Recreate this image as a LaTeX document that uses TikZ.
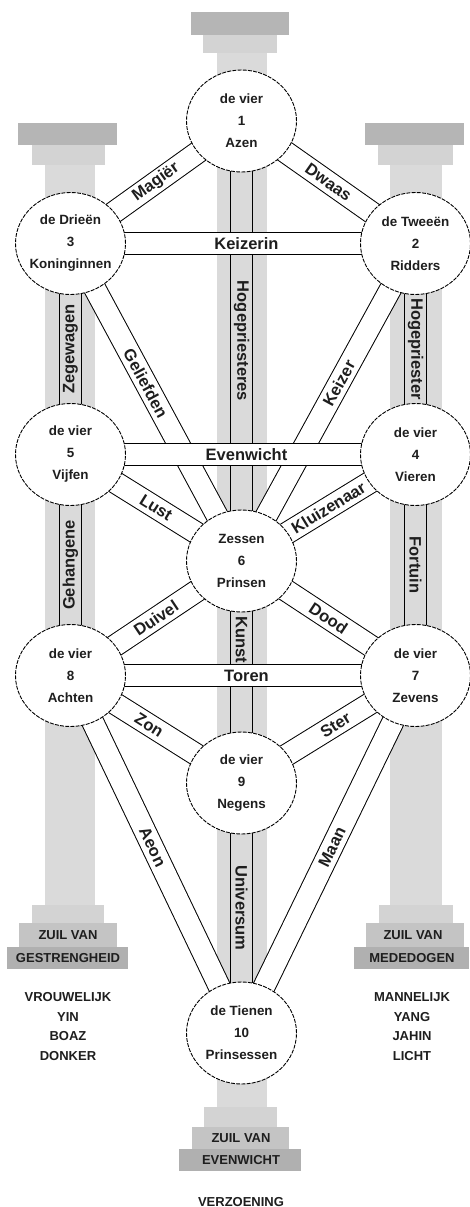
\documentclass[tikz,border=0pt]{standalone}
\usepackage{fontspec}
\setmainfont{Liberation Sans}
\usetikzlibrary{shapes.geometric}
\pgfdeclarelayer{pillars}
\pgfdeclarelayer{vbands}
\pgfdeclarelayer{dbands}
\pgfdeclarelayer{hbands}
\pgfsetlayers{pillars,vbands,dbands,hbands,main}
\definecolor{capc}{HTML}{B5B5B5}
\definecolor{stepc}{HTML}{D3D3D3}
\definecolor{shaftc}{HTML}{DADADA}
\definecolor{basea}{HTML}{C4C4C4}
\definecolor{baseb}{HTML}{B0B0B0}
\definecolor{ink}{HTML}{1E1E1E}
\begin{document}
\begin{tikzpicture}[x=1pt,y=-1pt,
  sefira/.style={ellipse, draw=black, fill=white, line width=0.9pt,
    dash pattern=on 4pt off 1.2pt, minimum width=110pt, minimum height=102pt,
    inner xsep=-3pt, inner ysep=0pt, align=center, text=ink,
    font=\bfseries\fontsize{13.4}{22}\selectfont},
  band/.style={draw=black, line width=1pt, double=white, double distance=21pt},
  vband/.style={band, double=shaftc},
  lbl/.style={font=\bfseries\fontsize{16.5}{18}\selectfont, inner sep=0pt, text=ink},
  zuil/.style={font=\bfseries\fontsize{13}{19.6}\selectfont, inner sep=0pt, align=center, text=ink},
]
\useasboundingbox (0,0) rectangle (469,1207);

% ---- sefirot ----
\node[sefira] (n1) at (241.5,121) {de vier\\1\\Azen};
\node[sefira] (n2) at (415.5,243.5) {de Tweeën\\2\\Ridders};
\node[sefira] (n3) at (70.5,243.5) {de Drieën\\3\\Koninginnen};
\node[sefira] (n4) at (415.5,454.5) {de vier\\4\\Vieren};
\node[sefira] (n5) at (70.5,454.5) {de vier\\5\\Vijfen};
\node[sefira] (n6) at (241.5,561) {Zessen\\6\\Prinsen};
\node[sefira] (n7) at (415.5,675.5) {de vier\\7\\Zevens};
\node[sefira] (n8) at (70.5,675.5) {de vier\\8\\Achten};
\node[sefira] (n9) at (241.5,783) {de vier\\9\\Negens};
\node[sefira] (n10) at (241.5,1033) {de Tienen\\10\\Prinsessen};

% ---- pillars ----
\begin{pgfonlayer}{pillars}
  % left pillar
  \fill[capc] (18,123) rectangle (117,145);
  \fill[stepc] (32,145) rectangle (105,165);
  \fill[shaftc] (45,165) rectangle (95,905);
  \fill[stepc] (32,905) rectangle (104,923);
  \fill[basea] (19,923) rectangle (117,947);
  \fill[baseb] (7,947) rectangle (128,969);
  % middle pillar
  \fill[capc] (191,12) rectangle (289,35);
  \fill[stepc] (203,35) rectangle (277,53);
  \fill[shaftc] (217,53) rectangle (267,1107);
  \fill[stepc] (204,1107) rectangle (277,1127);
  \fill[basea] (192,1127) rectangle (289,1149);
  \fill[baseb] (179,1149) rectangle (301,1171);
  % right pillar
  \fill[capc] (365,123) rectangle (464,145);
  \fill[stepc] (378,145) rectangle (453,165);
  \fill[shaftc] (390,165) rectangle (442,905);
  \fill[stepc] (379,905) rectangle (453,923);
  \fill[basea] (366,923) rectangle (464,947);
  \fill[baseb] (354,947) rectangle (469,969);
\end{pgfonlayer}

% ---- vertical paths ----
\begin{pgfonlayer}{vbands}
  \draw[vband] (n1.center) -- node[lbl,rotate=-90]{Hogepriesteres} (n6.center);
  \draw[vband] (n6.center) -- node[lbl,rotate=-90,pos=0.356]{Kunst} (n9.center);
  \draw[vband] (n9.center) -- node[lbl,rotate=-90]{Universum} (n10.center);
  \draw[vband] (n3.center) -- node[lbl,rotate=90]{Zegewagen} (n5.center);
  \draw[vband] (n5.center) -- node[lbl,rotate=90]{Gehangene} (n8.center);
  \draw[vband] (n2.center) -- node[lbl,rotate=-90]{Hogepriester} (n4.center);
  \draw[vband] (n4.center) -- node[lbl,rotate=-90]{Fortuin} (n7.center);
\end{pgfonlayer}

% ---- diagonal paths ----
\begin{pgfonlayer}{dbands}
  \draw[band] (n1.center) -- node[lbl,sloped]{Magiër} (n3.center);
  \draw[band] (n1.center) -- node[lbl,sloped]{Dwaas} (n2.center);
  \draw[band] (n3.center) -- node[lbl,sloped,pos=0.44]{Geliefden} (n6.center);
  \draw[band] (n2.center) -- node[lbl,sloped,pos=0.44]{Keizer} (n6.center);
  \draw[band] (n5.center) -- node[lbl,sloped]{Lust} (n6.center);
  \draw[band] (n4.center) -- node[lbl,sloped]{Kluizenaar} (n6.center);
  \draw[band] (n8.center) -- node[lbl,sloped]{Duivel} (n6.center);
  \draw[band] (n7.center) -- node[lbl,sloped]{Dood} (n6.center);
  \draw[band] (n8.center) -- node[lbl,sloped,pos=0.46]{Zon} (n9.center);
  \draw[band] (n7.center) -- node[lbl,sloped,pos=0.46]{Ster} (n9.center);
  \draw[band] (n8.center) -- node[lbl,sloped,pos=0.48]{Aeon} (n10.center);
  \draw[band] (n7.center) -- node[lbl,sloped,pos=0.48]{Maan} (n10.center);
\end{pgfonlayer}

% ---- horizontal paths ----
\begin{pgfonlayer}{hbands}
  \draw[band] (n3.center) -- node[lbl,pos=0.51]{Keizerin} (n2.center);
  \draw[band] (n5.center) -- node[lbl,pos=0.51]{Evenwicht} (n4.center);
  \draw[band] (n8.center) -- node[lbl,pos=0.51]{Toren} (n7.center);
\end{pgfonlayer}

% ---- pillar texts ----
\node[zuil] (zl1) at (68,935.5) {ZUIL VAN};
\node[zuil] (zl2) at (68,958) {GESTRENGHEID};
\node[zuil] (zr1) at (413,935.5) {ZUIL VAN};
\node[zuil] (zr2) at (412,958) {MEDEDOGEN};
\node[zuil] (zm1) at (241,1138.5) {ZUIL VAN};
\node[zuil] (zm2) at (241,1160.5) {EVENWICHT};
\node[zuil] (ql) at (68,1026.5) {VROUWELIJK\\YIN\\BOAZ\\DONKER};
\node[zuil] (qr) at (412,1026.5) {MANNELIJK\\YANG\\JAHIN\\LICHT};
\node[zuil, anchor=base] (qm) at (241,1206) {VERZOENING};
\end{tikzpicture}
\end{document}
